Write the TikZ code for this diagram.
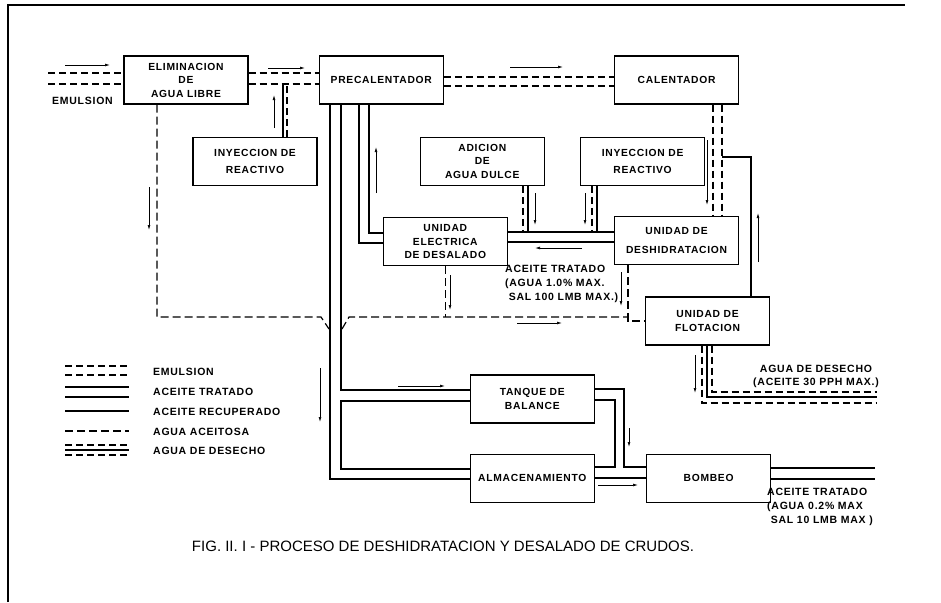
\documentclass[tikz,border=0pt]{standalone}
\usepackage{fontspec}
\setmainfont{Liberation Sans}
\newfontfamily\rotulo[LetterSpace=7]{Liberation Sans}
\usetikzlibrary{positioning,arrows.meta}

\tikzset{
  caja/.style={draw, line width=1.3pt, minimum width=124pt, minimum height=48pt,
    inner sep=0pt, align=center, font=\rotulo\bfseries\fontsize{10.3}{13.5}\selectfont},
  texto/.style={inner sep=0pt, font=\rotulo\bfseries\fontsize{10.5}{14}\selectfont},
  solido/.style={line width=1.1pt},
  emul/.style={line width=1.1pt, dash pattern=on 7pt off 4pt},
  aceitosa/.style={line width=1.2pt, dash pattern=on 8pt off 4pt},
  flecha/.style={line width=0.7pt, -{Latex[length=5pt,width=2.8pt]}}
}

\begin{document}
\begin{tikzpicture}[x=1pt, y=-1pt]
    \useasboundingbox (0,0) rectangle (941,602);
    % marco
    \draw[line width=1.2pt] (8,602) -- (8,5) -- (905,5);

    % equipos
    \node[caja] (elim) at (186,80) {ELIMINACION\\DE\\AGUA LIBRE};
    \node[caja, right=70pt of elim] (precal) {PRECALENTADOR};
    \node[caja, right=170pt of precal] (cal) {CALENTADOR};
    \node[caja, below=32pt of elim, xshift=69pt] (iny1) {INYECCION DE\\[3pt]REACTIVO};
    \node[caja, below=32pt of precal, xshift=101pt] (adic) {ADICION\\DE\\AGUA DULCE};
    \node[caja, below=32pt of cal, xshift=-34pt] (iny2) {INYECCION DE\\[3pt]REACTIVO};
    \node[caja, below=31pt of adic, xshift=-37pt] (desal) {UNIDAD\\ELECTRICA\\DE DESALADO};
    \node[caja, below=30pt of iny2, xshift=34pt] (desh) {UNIDAD DE\\[5pt]DESHIDRATACION};
    \node[caja, below=31pt of desh, xshift=31pt] (flot) {UNIDAD DE\\FLOTACION};
    \node[caja, below=108pt of desal, xshift=87pt] (tanq) {TANQUE DE\\BALANCE};
    \node[caja, below=30pt of tanq] (almac) {ALMACENAMIENTO};
    \node[caja, right=51pt of almac] (bomb) {BOMBEO};

    % emulsion
    \coordinate (entrada) at (48,78);
    \draw[emul] (entrada |- 0,73) -- (elim.west |- 0,73);
    \draw[emul] (entrada |- 0,84) -- (elim.west |- 0,84);
    \draw[emul] (elim.east |- 0,73) -- (precal.west |- 0,73);
    \draw[emul] (elim.east |- 0,84) -- (precal.west |- 0,84);
    \draw[emul] (precal.east |- 0,77) -- (cal.west |- 0,77);
    \draw[emul] (precal.east |- 0,86) -- (cal.west |- 0,86);
    \draw[solido] (iny1.north -| 283,0) -- (283,84);
    \draw[emul] (iny1.north -| 287,0) -- (287,84);
    \draw[emul] (cal.south -| 713,0) -- (desh.north -| 713,0);
    \draw[emul] (cal.south -| 722,0) -- (desh.north -| 722,0);
    \draw[emul] (adic.south -| 523,0) -- (523,232);
    \draw[solido] (adic.south -| 528,0) -- (528,232);
    \draw[emul] (iny2.south -| 592,0) -- (592,232);
    \draw[solido] (iny2.south -| 597,0) -- (597,232);

    % aceite tratado
    \draw[solido] (precal.south -| 369,0) |- (desal.west |- 0,233);
    \draw[solido] (precal.south -| 359,0) |- (desal.west |- 0,243);
    \draw[solido] (precal.south -| 341,0) |- (tanq.west |- 0,390);
    \draw[solido] (precal.south -| 330,0) |- (almac.west |- 0,479);
    \draw[solido] (tanq.west |- 0,401) -| (341,469) -- (almac.west |- 0,469);
    \draw[solido] (desal.east |- 0,232) -- (desh.west |- 0,232);
    \draw[solido] (desal.east |- 0,242) -- (desh.west |- 0,242);
    \draw[solido] (tanq.east |- 0,389) -| (624,467) -- (bomb.west |- 0,467);
    \draw[solido] (tanq.east |- 0,400) -| (615,467) -- (almac.east |- 0,467);
    \draw[solido] (almac.east |- 0,478) -- (bomb.west |- 0,478);
    \coordinate (salida) at (875,473);
    \draw[solido] (bomb.east |- 0,468) -- (salida |- 0,468);
    \draw[solido] (bomb.east |- 0,479) -- (salida |- 0,479);

    % aceite recuperado
    \draw[solido] (flot.north -| 751,0) |- (722,157);

    % agua aceitosa
    \draw[aceitosa] (elim.south -| 157,0) |- (321,317) -- (329,329);
    \draw[aceitosa] (342,329) -- (349,317) -- (628,317);
    \draw[aceitosa] (desal.south) -- (desal.south |- 0,317);
    \draw[aceitosa] (desh.south -| 628,0) |- (flot.west);

    % agua de desecho
    \coordinate (desecho) at (877,397);
    \draw[emul] (flot.south -| 712,0) |- (desecho |- 0,392);
    \draw[solido] (flot.south -| 707,0) |- (desecho |- 0,397);
    \draw[emul] (flot.south -| 702,0) |- (desecho |- 0,403);

    % sentido del flujo
    \draw[flecha] (65,65) -- (110,65);
    \draw[flecha] (268,68) -- (305,68);
    \draw[flecha] (510,67) -- (563,67);
    \draw[flecha] (274,128) -- (274,95);
    \draw[flecha] (149,187) -- (149,230);
    \draw[flecha] (376,193) -- (376,147);
    \draw[flecha] (320,368) -- (320,422);
    \draw[flecha] (398,386) -- (445,386);
    \draw[flecha] (535,193) -- (535,225);
    \draw[flecha] (585,193) -- (585,225);
    \draw[flecha] (582,248) -- (535,248);
    \draw[flecha] (707,140) -- (707,205);
    \draw[flecha] (758,262) -- (758,213);
    \draw[flecha] (450,275) -- (450,310);
    \draw[flecha] (621,272) -- (621,306);
    \draw[flecha] (517,323) -- (562,323);
    \draw[flecha] (695,355) -- (695,393);
    \draw[flecha] (629,428) -- (629,447);
    \draw[flecha] (598,485) -- (638,485);

    % rotulos
    \node[texto, anchor=west] (lemul) at (52,101) {EMULSION};
    \node[texto, anchor=north west, align=left] (ltrat) at (505,265)
      {ACEITE TRATADO\\(AGUA 1.0\% MAX.\\\ SAL 100 LMB MAX.)};
    \node[texto, align=center, font=\rotulo\bfseries\fontsize{10.5}{13}\selectfont] (ldes) at (816,376)
      {AGUA DE DESECHO\\(ACEITE 30 PPH MAX.)};
    \node[texto, anchor=north west, align=left] (lsal) at (767,488)
      {ACEITE TRATADO\\(AGUA 0.2\% MAX\\\ SAL 10 LMB MAX )};

    % simbologia
    \draw[emul] (65,366) -- (129,366);
    \draw[emul] (65,375) -- (129,375);
    \draw[solido] (65,387) -- (129,387);
    \draw[solido] (65,397) -- (129,397);
    \draw[solido] (65,411) -- (129,411);
    \draw[aceitosa] (65,431) -- (129,431);
    \draw[emul] (65,445) -- (129,445);
    \draw[solido] (65,450) -- (129,450);
    \draw[emul] (65,455) -- (129,455);
    \node[texto, anchor=west] (s1) at (153,372) {EMULSION};
    \node[texto, anchor=west] (s2) at (153,392) {ACEITE TRATADO};
    \node[texto, anchor=west] (s3) at (153,412) {ACEITE RECUPERADO};
    \node[texto, anchor=west] (s4) at (153,432) {AGUA ACEITOSA};
    \node[texto, anchor=west] (s5) at (153,451) {AGUA DE DESECHO};

    % titulo
    \node[font=\fontsize{15}{18}\selectfont] (fig) at (443,546)
      {FIG. II. I - PROCESO DE DESHIDRATACION Y DESALADO DE CRUDOS.};
\end{tikzpicture}
\end{document}
